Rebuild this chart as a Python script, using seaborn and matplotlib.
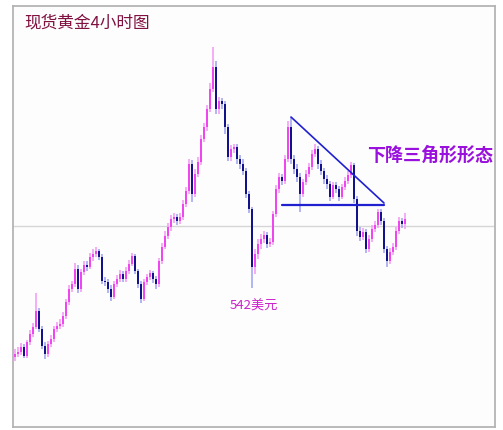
import matplotlib
matplotlib.use("Agg")
import matplotlib.pyplot as plt
import numpy as np
import pandas as pd
import seaborn as sns

# Spot gold, 4-hour candles
opens = [473, 476, 478, 483, 474, 488, 496, 503, 519, 501, 484, 476, 486, 491, 501, 504, 506, 514, 528, 541,
         546, 561, 541, 558, 565, 563, 573, 576, 579, 573, 549, 548, 541, 533, 546, 551, 556, 551, 559, 566,
         574, 559, 546, 531, 548, 553, 557, 551, 546, 569, 583, 594, 603, 611, 613, 609, 613, 626, 639, 666,
         636, 656, 668, 691, 703, 721, 741, 763, 721, 729, 726, 703, 673, 681, 683, 671, 666, 659, 636, 621,
         563, 576, 586, 591, 595, 586, 588, 616, 641, 653, 649, 671, 703, 671, 661, 653, 636, 648, 656, 663,
         676, 681, 666, 659, 651, 646, 633, 645, 641, 633, 643, 649, 655, 665, 631, 599, 593, 598, 581, 591,
         601, 605, 618, 609, 581, 569, 578, 583, 599, 609, 606]
closes = [476, 478, 483, 474, 488, 496, 503, 519, 501, 484, 476, 486, 491, 501, 504, 506, 514, 528, 541, 546,
          561, 541, 558, 565, 563, 573, 576, 579, 573, 549, 548, 541, 533, 546, 551, 556, 551, 559, 566, 574,
          559, 546, 531, 548, 553, 557, 551, 546, 569, 583, 594, 603, 611, 613, 609, 613, 626, 639, 666, 636,
          656, 668, 691, 703, 721, 741, 763, 721, 729, 726, 703, 673, 681, 683, 671, 666, 659, 636, 621, 563,
          576, 586, 591, 595, 586, 588, 616, 641, 653, 649, 671, 703, 671, 661, 653, 636, 648, 656, 663, 676,
          681, 666, 659, 651, 646, 633, 645, 641, 633, 643, 649, 655, 665, 631, 599, 593, 598, 581, 591, 601,
          605, 618, 609, 581, 569, 578, 583, 599, 609, 606, 611]
highs = [481, 483, 487, 486, 490, 500, 507, 537, 522, 504, 488, 489, 495, 504, 508, 511, 518, 531, 545, 549,
         567, 565, 561, 569, 569, 577, 581, 583, 581, 576, 553, 551, 545, 549, 555, 560, 559, 563, 570, 577,
         576, 561, 549, 551, 556, 560, 559, 554, 572, 587, 599, 607, 615, 617, 616, 617, 630, 643, 671, 670,
         661, 673, 695, 707, 725, 747, 783, 769, 733, 732, 729, 706, 685, 686, 686, 675, 671, 662, 639, 623,
         581, 591, 596, 599, 598, 592, 619, 645, 657, 656, 675, 709, 713, 675, 666, 657, 651, 660, 667, 680,
         686, 684, 670, 662, 655, 649, 648, 648, 644, 646, 653, 659, 668, 667, 634, 603, 602, 601, 595, 605,
         609, 621, 621, 612, 584, 582, 587, 603, 613, 612, 617]
lows = [469, 473, 475, 472, 472, 485, 493, 501, 498, 481, 471, 473, 483, 488, 498, 501, 503, 511, 525, 538,
        543, 537, 538, 555, 559, 561, 569, 573, 570, 546, 544, 537, 529, 531, 543, 548, 548, 548, 556, 564,
        556, 542, 527, 529, 545, 550, 547, 541, 543, 566, 581, 591, 599, 607, 605, 606, 610, 623, 636, 628,
        633, 653, 665, 688, 699, 718, 738, 716, 716, 721, 696, 669, 669, 677, 666, 661, 655, 632, 617, 542,
        556, 571, 581, 587, 582, 583, 585, 613, 637, 645, 646, 668, 666, 656, 648, 618, 633, 645, 653, 660,
        673, 661, 655, 646, 641, 629, 631, 637, 629, 631, 640, 646, 652, 627, 594, 589, 590, 577, 578, 588,
        598, 602, 605, 577, 563, 566, 575, 580, 596, 602, 601]

# Descending triangle: falling resistance and flat support
resist_idx = [92, 123]
resist_px = [713, 627]
support_idx = [89, 123]
support_px = [625, 625]
ref_level = 604
low_label = "542美元"
low_value = 542
low_candle = 79
title_text = "现货黄金4小时图"
pattern_text = "下降三角形形态"

sns.set_theme(style="white")
plt.rcParams["font.family"] = ["Noto Sans CJK SC", "DejaVu Sans"]

df = pd.DataFrame({"open": opens, "high": highs, "low": lows, "close": closes})
df["idx"] = np.arange(len(df))
df["up"] = df["close"] >= df["open"]

fig = plt.figure(figsize=(5.03, 4.31), dpi=100)
fig.patch.set_facecolor("white")
ax = fig.add_axes([13 / 503, 3 / 431, 482 / 503, 421 / 431])
ax.set_facecolor("#fdfdfd")

ax.axhline(ref_level, color="#d6d6d6", lw=1.0, zorder=1)

up = df[df["up"]]
dn = df[~df["up"]]
ax.vlines(up["idx"], up["low"], up["high"], color="#f5a0f5", lw=1.2, zorder=2)
ax.vlines(dn["idx"], dn["low"], dn["high"], color="#a4a8f0", lw=1.2, zorder=2)
ax.bar(up["idx"], (up["close"] - up["open"]).clip(lower=1.0), bottom=up["open"],
       width=0.7, color="#f046f0", edgecolor="none", zorder=3)
ax.bar(dn["idx"], (dn["open"] - dn["close"]).clip(lower=1.0), bottom=dn["close"],
       width=0.7, color="#12128a", edgecolor="none", zorder=3)

tri = pd.DataFrame({"x": resist_idx, "y": resist_px})
sup = pd.DataFrame({"x": support_idx, "y": support_px})
sns.lineplot(data=tri, x="x", y="y", color="#2020d0", lw=1.2, ax=ax, zorder=4)
sns.lineplot(data=sup, x="x", y="y", color="#2020d0", lw=1.6, ax=ax, zorder=4)

ax.text(low_candle + 0.5, lows[low_candle] - 11, low_label, color="#cc22cc", fontsize=9.5,
        ha="center", va="top", zorder=5)
ax.text(138.5, 676, pattern_text, color="#9a10dd", fontsize=13, fontweight="bold",
        ha="center", va="center", zorder=5)
ax.text(3, 808, title_text, color="#80103f", fontsize=12, ha="left", va="center",
        zorder=5)

ax.set_xlim(-0.67, 160)
ax.set_ylim(403, 824)
ax.set_xlabel("")
ax.set_ylabel("")
ax.set_xticks([])
ax.set_yticks([])
for s in ax.spines.values():
    s.set_color("#b4b4b4")
    s.set_linewidth(1.3)

fig.savefig("out.png", dpi=100, facecolor="white")
